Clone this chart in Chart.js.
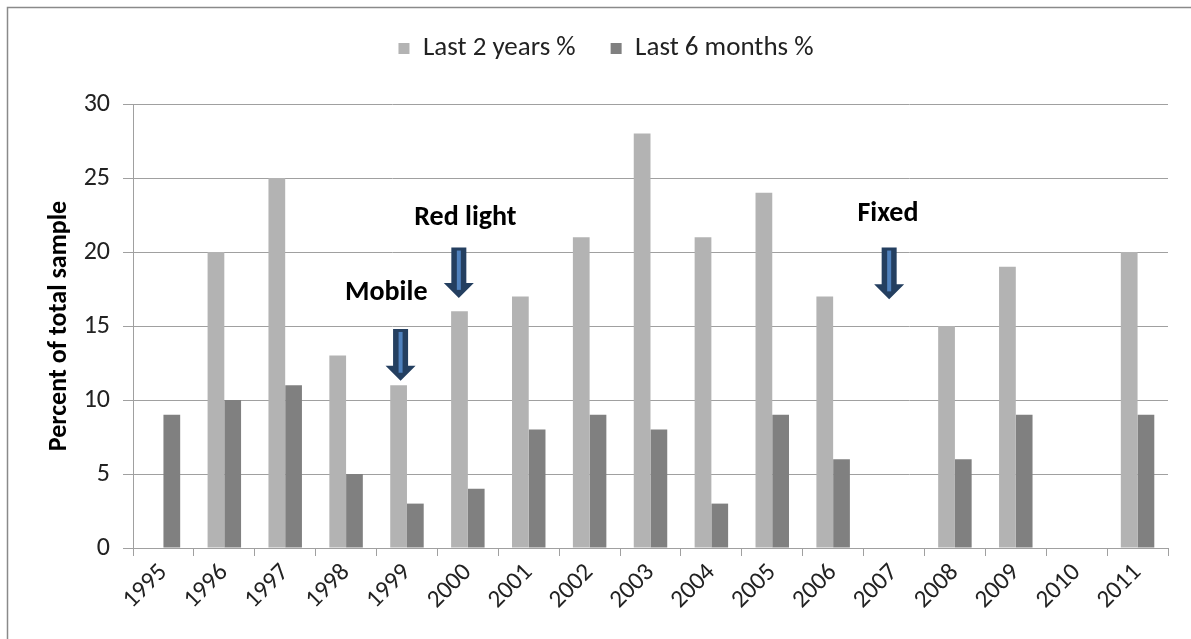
<!DOCTYPE html>
<html>
<head>
<meta charset="utf-8">
<script src="https://cdn.jsdelivr.net/npm/chart.js@4.4.1/dist/chart.umd.min.js"></script>
<style>
  html, body { margin: 0; padding: 0; background: #fff; }
  #wrap { position: relative; width: 1191px; height: 639px; }
  canvas { display: block; }
</style>
</head>
<body>
<div id="wrap"><canvas id="c" width="1191" height="639"></canvas></div>
<script>
// ---- data ----
const years = ['1995','1996','1997','1998','1999','2000','2001','2002','2003','2004','2005','2006','2007','2008','2009','2010','2011'];
const last2Years  = [null, 20, 25, 13, 11, 16, 17, 21, 28, 21, 24, 17, null, 15, 19, null, 20];
const last6Months = [9, 10, 11, 5, 3, 4, 8, 9, 8, 3, 9, 6, null, 6, 9, null, 9];
const seriesNames = ['Last 2 years %', 'Last 6 months %'];
const yAxisTitle = 'Percent of total sample';
const yMin = 0, yMax = 30, yStep = 5;

// annotations (category index / value units)
const noteText   = ['Mobile', 'Red light', 'Fixed'];
const noteTextX  = [3.66, 4.96, 11.9];
const noteTextY  = [17.2, 22.3, 22.6];
const arrowX     = [3.895, 4.852, 11.92];
const arrowTop   = [14.8, 20.3, 20.3];
const arrowTip   = [11.3, 16.9, 16.8];

const FONT = 'Carlito, Lato, "Open Sans", sans-serif';

const framePlugin = {
  id: 'frame',
  beforeDraw(chart) {
    const ctx = chart.ctx;
    ctx.save();
    ctx.fillStyle = '#ffffff';
    ctx.fillRect(0, 0, chart.width, chart.height);
    ctx.strokeStyle = '#8a8a8a';
    ctx.lineWidth = 1.5;
    ctx.beginPath();
    ctx.moveTo(7.5, chart.height);
    ctx.lineTo(7.5, 7.5);
    ctx.lineTo(chart.width, 7.5);
    ctx.stroke();
    ctx.restore();
  }
};

const legendSpacer = {
  id: 'legendSpacer',
  beforeInit(chart) {
    const orig = chart.legend.fit;
    chart.legend.fit = function () { orig.call(this); this.height += 32; };
  }
};

const notesPlugin = {
  id: 'notes',
  afterDatasetsDraw(chart) {
    const ctx = chart.ctx;
    const xs = chart.scales.x, ys = chart.scales.y;
    ctx.save();
    ctx.fillStyle = '#000';
    ctx.font = 'bold 28px ' + FONT;
    ctx.textAlign = 'center';
    ctx.textBaseline = 'middle';
    noteText.forEach((t, i) => {
      ctx.fillText(t, xs.getPixelForValue(noteTextX[i]), ys.getPixelForValue(noteTextY[i]));
    });
    arrowX.forEach((v, i) => {
      const cx = xs.getPixelForValue(v);
      const top = ys.getPixelForValue(arrowTop[i]);
      const tip = ys.getPixelForValue(arrowTip[i]);
      const shaftW = 15, headW = 30, headH = 15;
      const hs = tip - headH;
      ctx.fillStyle = '#243f60';
      ctx.beginPath();
      ctx.moveTo(cx - shaftW / 2, top);
      ctx.lineTo(cx + shaftW / 2, top);
      ctx.lineTo(cx + shaftW / 2, hs);
      ctx.lineTo(cx + headW / 2, hs);
      ctx.lineTo(cx, tip);
      ctx.lineTo(cx - headW / 2, hs);
      ctx.lineTo(cx - shaftW / 2, hs);
      ctx.closePath();
      ctx.fill();
      ctx.fillStyle = '#4f81bd';
      ctx.fillRect(cx - 2, top + 3, 4, hs - top + 4);
    });
    ctx.restore();
  }
};

new Chart(document.getElementById('c'), {
  type: 'bar',
  data: {
    labels: years,
    datasets: [
      { label: seriesNames[0], data: last2Years, backgroundColor: '#b3b3b3', borderWidth: 0 },
      { label: seriesNames[1], data: last6Months, backgroundColor: '#808080', borderWidth: 0 }
    ]
  },
  options: {
    responsive: false,
    animation: false,
    devicePixelRatio: 1,
    layout: { padding: { left: 44, right: 23, top: 0, bottom: 0 } },
    datasets: { bar: { categoryPercentage: 0.55, barPercentage: 1 } },
    plugins: {
      legend: {
        position: 'top',
        labels: {
          font: { family: FONT, size: 27 },
          color: '#222',
          boxWidth: 11,
          boxHeight: 11,
          padding: 35
        }
      },
      tooltip: { enabled: false }
    },
    scales: {
      x: {
        grid: { display: true, offset: true, drawOnChartArea: false, drawTicks: true, tickLength: 8, color: '#a0a0a0' },
        border: { display: true, color: '#a0a0a0', width: 1 },
        ticks: { autoSkip: false, maxRotation: 45, minRotation: 45, padding: 2, color: '#222', font: { family: FONT, size: 25 } },
        afterFit(scale) { scale.height = 91; }
      },
      y: {
        min: yMin, max: yMax,
        ticks: { stepSize: yStep, padding: 13, color: '#222', font: { family: FONT, size: 26 } },
        grid: { color: '#a0a0a0', tickLength: 10, drawTicks: true },
        border: { display: true, color: '#a0a0a0', width: 1 },
        title: { display: true, text: yAxisTitle, color: '#000', padding: 0, font: { family: FONT, size: 26, weight: 'bold' } },
        afterFit(scale) { scale.width = 89; }
      }
    }
  },
  plugins: [framePlugin, legendSpacer, notesPlugin]
});
</script>
</body>
</html>
